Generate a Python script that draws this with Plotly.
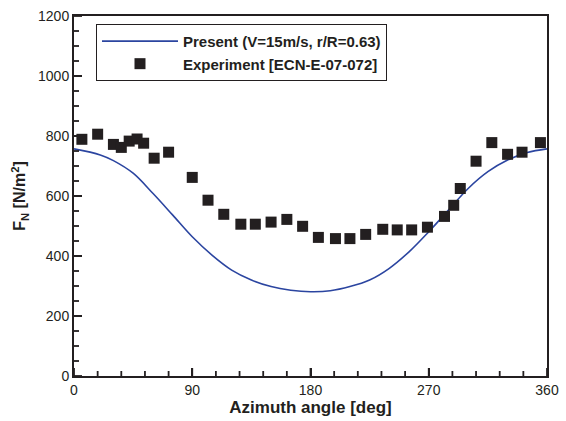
import plotly.graph_objects as go

# Model curve (Present)
model_az = [0, 20, 30, 45, 60, 75, 90, 105, 120, 135, 150, 165, 180, 195, 210,
            225, 240, 255, 270, 285, 300, 315, 330, 345, 360]
model_fn = [757, 737, 718, 676, 609, 537, 464, 403, 353, 320, 298, 286, 281, 284, 298,
            320, 359, 414, 481, 553, 625, 681, 720, 745, 757]

# Experiment points
exp_az = [6, 18, 30, 36, 42, 48, 53, 61, 72, 90, 102, 114, 127, 138, 150, 162, 174,
          186, 199, 210, 222, 235, 246, 257, 269, 282, 289, 294, 306, 318, 330, 341, 355]
exp_fn = [789, 806, 772, 762, 783, 790, 776, 726, 746, 662, 586, 539, 506, 506, 513,
          522, 499, 462, 458, 458, 472, 489, 487, 487, 496, 532, 569, 625, 716, 778,
          739, 746, 778]

x_ticks = [0, 90, 180, 270, 360]
y_ticks = [0, 200, 400, 600, 800, 1000, 1200]
x_minor_step = 18
y_minor_step = 50

FONT = "Liberation Sans, Arial, sans-serif"
INK = "#231f20"

W, H = 566, 421
ML, MR, MT, MB = 74, 19, 16, 45
PW, PH = W - ML - MR, H - MT - MB
XR = x_ticks[-1] - x_ticks[0]
YR = y_ticks[-1] - y_ticks[0]

fig = go.Figure()
fig.add_trace(go.Scatter(
    x=model_az, y=model_fn, mode="lines", line=dict(color="#2b45a0", width=1.6, shape="spline"),
    name="<b>Present (V=15m/s, r/R=0.63)</b>"))
fig.add_trace(go.Scatter(
    x=exp_az, y=exp_fn, mode="markers",
    marker=dict(symbol="square", size=11, color=INK),
    name="<b>Experiment [ECN-E-07-072]</b>"))


def tick_trace(major, minor_step, along_x, width):
    xs, ys = [], []
    lo, hi = major[0], major[-1]
    for v in range(lo, hi + 1, minor_step):
        px = 8 if v in major else 5
        if along_x:
            L = px * YR / PH
            xs += [v, v, None]
            ys += [y_ticks[0], y_ticks[0] + L, None]
        else:
            L = px * XR / PW
            xs += [x_ticks[0], x_ticks[0] + L, None]
            ys += [v, v, None]
    for v in major:
        if (v - lo) % minor_step:
            if along_x:
                xs += [v, v, None]
                ys += [y_ticks[0], y_ticks[0] + 8 * YR / PH, None]
            else:
                xs += [x_ticks[0], x_ticks[0] + 8 * XR / PW, None]
                ys += [v, v, None]
    return go.Scatter(x=xs, y=ys, mode="lines", line=dict(color=INK, width=width),
                      showlegend=False, hoverinfo="skip", cliponaxis=False)


fig.add_trace(tick_trace(x_ticks, x_minor_step, True, 1.8))
fig.add_trace(tick_trace(y_ticks, y_minor_step, False, 1.8))

axis_common = dict(
    showline=True, linecolor=INK, linewidth=2, mirror=True,
    ticks="inside", ticklen=8, tickwidth=2, tickcolor=INK,
    showgrid=False, zeroline=False,
    tickfont=dict(family=FONT, size=14, color=INK),
)

fig.update_xaxes(
    range=[x_ticks[0], x_ticks[-1]], tickmode="array", tickvals=x_ticks,
    ticktext=[str(v) for v in x_ticks],
    title=dict(text="<b>Azimuth angle [deg]</b>", font=dict(family=FONT, size=17, color=INK),
               standoff=4),
    **axis_common)
fig.update_yaxes(
    range=[y_ticks[0], y_ticks[-1]], tickmode="array", tickvals=y_ticks,
    ticktext=[str(v) for v in y_ticks],
    title=dict(text="<b>F<sub>N</sub> [N/m<sup>2</sup>]</b>", font=dict(family=FONT, size=16, color=INK),
               standoff=8),
    **axis_common)

fig.update_layout(
    width=W, height=H,
    margin=dict(l=ML, r=MR, t=MT, b=MB, autoexpand=False),
    paper_bgcolor="white", plot_bgcolor="white",
    font=dict(family=FONT, color=INK),
    legend=dict(x=0.0465, y=0.978, xanchor="left", yanchor="top",
                bordercolor=INK, borderwidth=1, bgcolor="white",
                font=dict(family=FONT, size=15, color=INK),
                itemwidth=76, tracegroupgap=0),
    showlegend=True,
)

fig.write_html("out.html", config={"displayModeBar": False},
               post_script="document.body.style.margin='0';")
